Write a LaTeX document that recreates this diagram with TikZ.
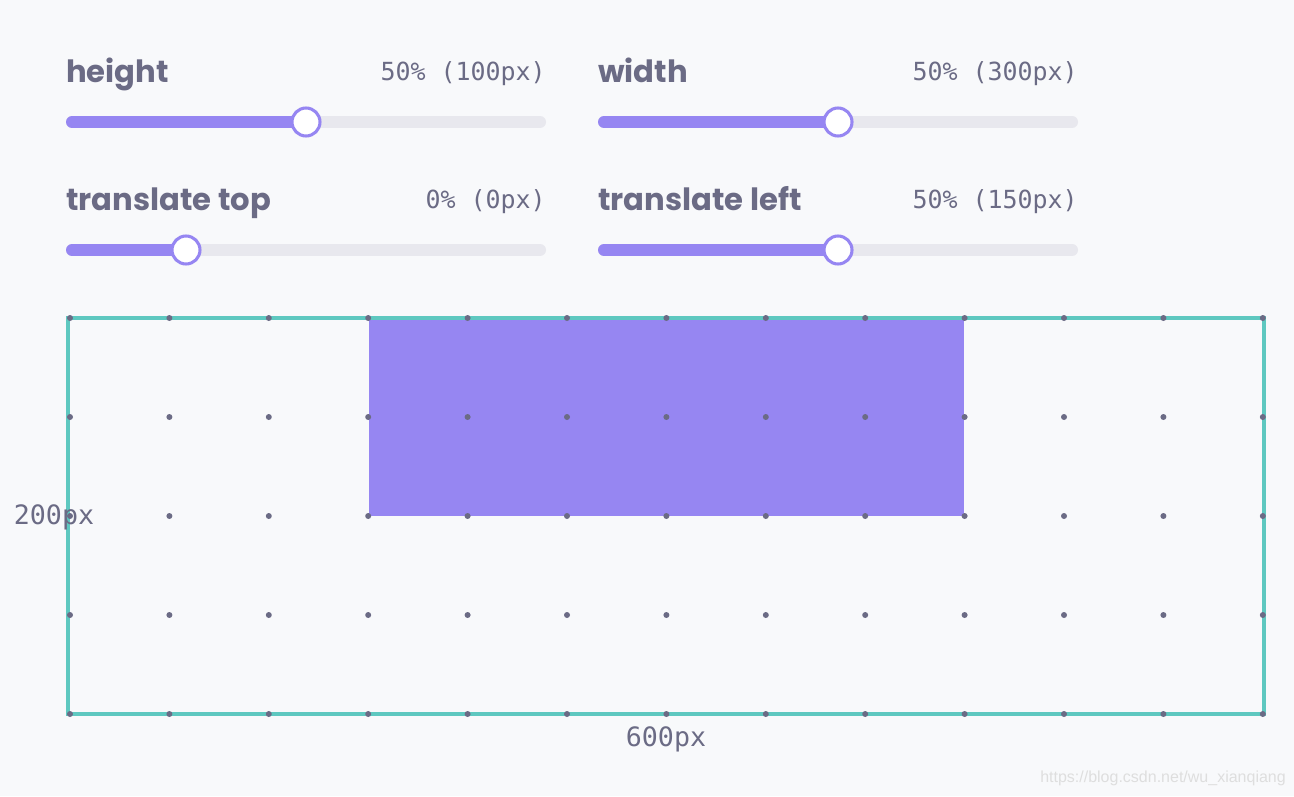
\documentclass[tikz,border=0pt]{standalone}
\usepackage{fontspec}
\newfontfamily\labelfont{Poppins}
\newfontfamily\valuefont{DejaVu Sans Mono}
\newfontfamily\markfont{Liberation Sans}
\usetikzlibrary{positioning}

\definecolor{bgpage}{HTML}{F8F9FB}
\definecolor{ink}{HTML}{6B6B85}
\definecolor{violet}{HTML}{9686F2}
\definecolor{trackgray}{HTML}{E8E8EE}
\definecolor{frameteal}{HTML}{5EC8C0}

\tikzset{
  lbl/.style={font=\labelfont\bfseries\fontsize{23}{27}\selectfont, text=ink, inner sep=0pt},
  val/.style={font=\valuefont\fontsize{18.7}{23}\selectfont, text=ink, inner sep=0pt},
  track/.style={line width=9pt, line cap=round, trackgray},
  trackfill/.style={line width=9pt, line cap=round, violet},
  knob/.style={circle, draw=violet, fill=white, line width=2.3pt, minimum size=21pt, inner sep=0pt},
  gridpt/.style={circle, fill=ink, minimum size=4.5pt, inner sep=0pt}
}

\begin{document}
\begin{tikzpicture}[x=0.75pt, y=-0.75pt]
      % page background
      \fill[bgpage] (0,0) rectangle (1294,796);

      % sliders
      \foreach \nm/\lbl/\val/\x/\y/\k in {
          h/height/50\% (100px)/66/122/306,
          w/width/50\% (300px)/598/122/838,
          t/translate top/0\% (0px)/66/250/186,
          l/translate left/50\% (150px)/598/250/838} {
        \draw[track] (\x+6,\y) -- (\x+474,\y);
        \draw[trackfill] (\x+6,\y) -- (\k,\y);
        \node[knob] (knob-\nm) at (\k,\y) {};
        \node[lbl, anchor=base west] (lbl-\nm) at (\x,\y-40) {\lbl};
        \node[val, anchor=base east] (val-\nm) at (\x+480,\y-42) {\val};
      }

      % element and container
      \fill[violet] (369,318) rectangle (964,516);
      \draw[frameteal, line width=2.4pt] (68,318) rectangle (1264,714);

      % grid dots
      \foreach \i in {0,...,12}
        \foreach \j in {0,...,4}
          \node[gridpt] (dot-\i-\j) at ({70+\i*99.4},{318+\j*99}) {};

      % dimensions
      \node[val, font=\valuefont\fontsize{20}{24}\selectfont] (dim-h) at (54,517) {200px};
      \node[val, font=\valuefont\fontsize{20}{24}\selectfont] (dim-w) at (666,739) {600px};

      \node[font=\markfont\fontsize{12}{14}\selectfont, text=black!13] (mark) at (1163,778) {https://blog.csdn.net/wu\_xianqiang};
    \end{tikzpicture}
\end{document}
